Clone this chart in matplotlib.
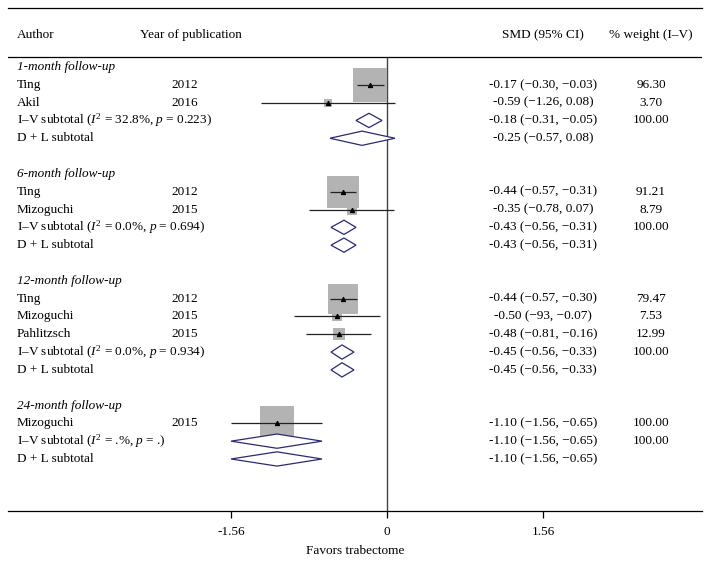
import matplotlib
matplotlib.use("Agg")
import matplotlib.pyplot as plt
import numpy as np

plt.rcParams["font.family"] = ["Liberation Serif", "DejaVu Serif"]
plt.rcParams["mathtext.fontset"] = "custom"
plt.rcParams["mathtext.rm"] = "Liberation Serif"
plt.rcParams["mathtext.it"] = "Liberation Serif:italic"

# subgroups
groups = ["1-month follow-up", "6-month follow-up", "12-month follow-up", "24-month follow-up"]
authors = [["Ting", "Akil"], ["Ting", "Mizoguchi"], ["Ting", "Mizoguchi", "Pahlitzsch"], ["Mizoguchi"]]
years = [["2012", "2016"], ["2012", "2015"], ["2012", "2015", "2015"], ["2015"]]
smd = [[-0.17, -0.59], [-0.44, -0.35], [-0.44, -0.50, -0.48], [-1.10]]
lo = [[-0.30, -1.26], [-0.57, -0.78], [-0.57, -0.93, -0.81], [-1.56]]
hi = [[-0.03, 0.08], [-0.31, 0.07], [-0.30, -0.07, -0.16], [-0.65]]
weight = [["96.30", "3.70"], ["91.21", "8.79"], ["79.47", "7.53", "12.99"], ["100.00"]]
smd_text = [["-0.17 (\u22120.30, \u22120.03)", "-0.59 (\u22121.26, 0.08)"],
            ["-0.44 (\u22120.57, \u22120.31)", "-0.35 (\u22120.78, 0.07)"],
            ["-0.44 (\u22120.57, \u22120.30)", "-0.50 (\u221293, \u22120.07)", "-0.48 (\u22120.81, \u22120.16)"],
            ["-1.10 (\u22121.56, \u22120.65)"]]

# I-V subtotals
iv_est = [-0.18, -0.43, -0.45, -1.10]
iv_lo = [-0.31, -0.56, -0.56, -1.56]
iv_hi = [-0.05, -0.31, -0.33, -0.65]
iv_i2 = ["32.8%", "0.0%", "0.0%", ".%"]
iv_p = ["0.223", "0.694", "0.934", "."]
iv_text = ["-0.18 (\u22120.31, \u22120.05)", "-0.43 (\u22120.56, \u22120.31)",
           "-0.45 (\u22120.56, \u22120.33)", "-1.10 (\u22121.56, \u22120.65)"]

# D+L subtotals
dl_est = [-0.25, -0.43, -0.45, -1.10]
dl_lo = [-0.57, -0.56, -0.56, -1.56]
dl_hi = [0.08, -0.31, -0.33, -0.65]
dl_text = ["-0.25 (\u22120.57, 0.08)", "-0.43 (\u22120.56, \u22120.31)",
           "-0.45 (\u22120.56, \u22120.33)", "-1.10 (\u22121.56, \u22120.65)"]

xticks = [-1.56, 0, 1.56]
xticklabels = ["-1.56", "0", "1.56"]

fs = 9.5
box_col = "#b3b3b3"
dia_col = "#2a2a72"

fig = plt.figure(figsize=(7.11, 5.62), dpi=100)
ax = fig.add_axes([8 / 711, 51 / 562, 694 / 711, 503 / 562])
ax.set_xlim(-3.79, 3.15)
ax.set_ylim(24.92, -3.31)
for s in ["left", "right"]:
    ax.spines[s].set_visible(False)
ax.spines["top"].set_linewidth(0.9)
ax.spines["bottom"].set_linewidth(0.9)
ax.set_yticks([])
ax.set_xticks(xticks)
ax.set_xticklabels(xticklabels, fontsize=fs)
ax.tick_params(axis="x", length=5, width=0.9, pad=6)
ax.set_xlabel("Favors trabectome", fontsize=fs, labelpad=5)

# header
ax.axhline(-0.56, color="black", lw=0.9)
hy = -1.79
ax.text(-3.70, hy, "Author", fontsize=fs, va="center")
ax.text(-2.47, hy, "Year of publication", fontsize=fs, va="center")
ax.text(1.56, hy, "SMD (95% CI)", fontsize=fs, va="center", ha="center")
ax.text(2.64, hy, "% weight (I\u2013V)", fontsize=fs, va="center", ha="center")

ax.vlines(0, -0.56, 24.92, color="#444444", lw=1.0)

x_lab, x_year, x_smd, x_w = -3.70, -1.89, 1.56, 2.64
dh = 0.40

def diamond(est, l, h, row):
    ax.fill([l, est, h, est, l], [row, row - dh, row, row + dh, row],
            facecolor="white", edgecolor=dia_col, lw=0.9, zorder=4)

row = 0
for g in range(len(groups)):
    ax.text(x_lab, row, groups[g], fontsize=fs, va="center", style="italic")
    row += 1
    for i in range(len(authors[g])):
        ax.text(x_lab, row, authors[g][i], fontsize=fs, va="center")
        ax.text(x_year, row, years[g][i], fontsize=fs, va="center", ha="right")
        ax.text(x_smd, row, smd_text[g][i], fontsize=fs, va="center", ha="center")
        ax.text(x_w, row, weight[g][i], fontsize=fs, va="center", ha="center")
        side_px = max(8, 34 * np.sqrt(float(weight[g][i]) / 100))
        ax.scatter([smd[g][i]], [row], marker="s", s=(side_px * 0.72) ** 2,
                   color=box_col, linewidths=0, zorder=2)
        ax.hlines(row, lo[g][i], hi[g][i], color="#222222", lw=0.9, zorder=3)
        ax.scatter([smd[g][i]], [row], marker="^", s=8, color="black", zorder=5)
        row += 1
    ax.text(x_lab, row, "I\u2013V subtotal ($I^2$ = " + iv_i2[g] + ", $p$ = " + iv_p[g] + ")",
            fontsize=fs, va="center")
    ax.text(x_smd, row, iv_text[g], fontsize=fs, va="center", ha="center")
    ax.text(x_w, row, "100.00", fontsize=fs, va="center", ha="center")
    diamond(iv_est[g], iv_lo[g], iv_hi[g], row)
    row += 1
    ax.text(x_lab, row, "D + L subtotal", fontsize=fs, va="center")
    ax.text(x_smd, row, dl_text[g], fontsize=fs, va="center", ha="center")
    diamond(dl_est[g], dl_lo[g], dl_hi[g], row)
    row += 2

fig.savefig("out.png", dpi=100)
